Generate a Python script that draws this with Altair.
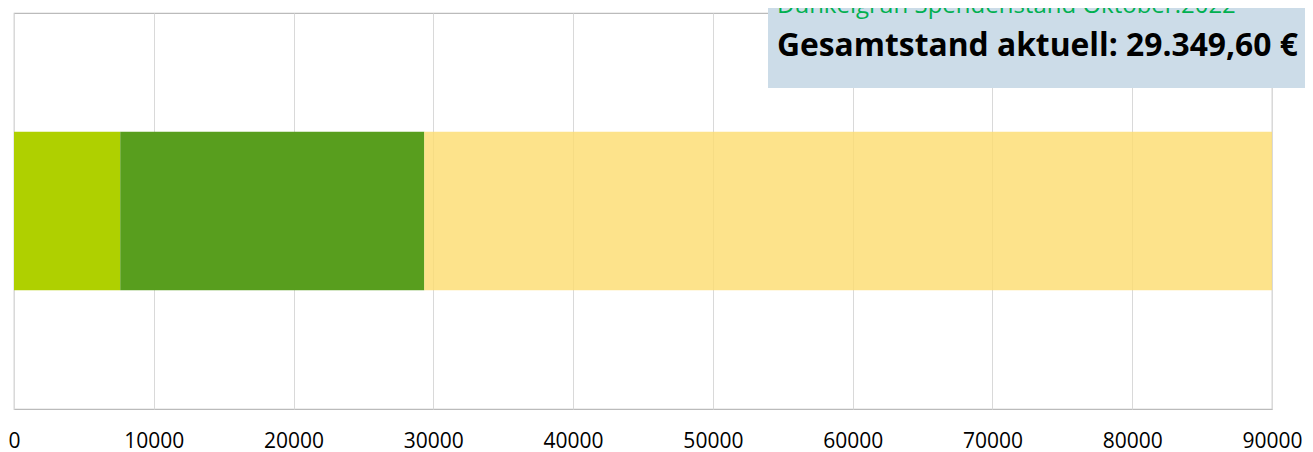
import altair as alt
import pandas as pd

# Data
segments = ["Spendenstand bis September", "Dunkelgrün Spendenstand Oktober.2022", "Noch offen bis Ziel"]
amounts = [7600.0, 21749.6, 60650.4]
colors = ["#AFD000", "#589E1E", "#FCDC6E"]
opacities = [1.0, 1.0, 0.8]
tick_values = [0, 10000, 20000, 30000, 40000, 50000, 60000, 70000, 80000, 90000]
info_green = "Dunkelgrün Spendenstand Oktober.2022"
info_total = "Gesamtstand aktuell: 29.349,60 €"

starts, ends, acc = [], [], 0.0
for a in amounts:
    starts.append(acc)
    acc += a
    ends.append(acc)

df = pd.DataFrame({
    "segment": segments,
    "start": starts,
    "end": ends,
    "row": ["Spenden"] * len(segments),
    "op": opacities,
})

W, H = 1258, 396

bars = alt.Chart(df).mark_bar(cornerRadius=0).encode(
    x=alt.X("start:Q",
            scale=alt.Scale(domain=[0, 90000], nice=False, zero=True),
            axis=alt.Axis(values=tick_values, format="d", title=None, ticks=False,
                          domain=False, grid=True, gridColor="#D9D9D9", gridWidth=1,
                          labelFont="Open Sans", labelFontSize=21, labelColor="#000000",
                          labelPadding=21, labelFlush=False, labelOverlap=False)),
    x2="end:Q",
    y=alt.Y("row:N", axis=None, scale=alt.Scale(paddingInner=0, paddingOuter=0.75)),
    color=alt.Color("segment:N", scale=alt.Scale(domain=segments, range=colors), legend=None),
    opacity=alt.Opacity("op:Q", scale=None),
)

box = alt.Chart(df).mark_rect(color="#CCDCE8", clip=False).encode(
    x=alt.value(754), x2=alt.value(1320), y=alt.value(-13), y2=alt.value(75)
)

txt_df = pd.DataFrame({"t": [info_total]})
g_df = pd.DataFrame({"t": [info_green]})

total_text = alt.Chart(txt_df).mark_text(
    align="left", baseline="alphabetic", font="Open Sans", fontWeight="bold",
    fontSize=31.8, color="#000000", clip=False
).encode(x=alt.value(763), y=alt.value(43), text="t:N")

green_text = alt.Chart(g_df).mark_text(
    align="left", baseline="alphabetic", font="Open Sans",
    fontSize=24, color="#00B050", clip=False
).encode(x=alt.value(763), y=alt.value(0), text="t:N")

chart = alt.layer(bars, box, green_text, total_text).properties(
    width=W, height=H,
    padding={"left": 6, "top": 5, "right": 33, "bottom": 48},
    autosize="none",
).configure_view(stroke="#BBBBBB", strokeWidth=1.2)

chart.save("out.html", embed_options={"renderer": "svg", "actions": False})
